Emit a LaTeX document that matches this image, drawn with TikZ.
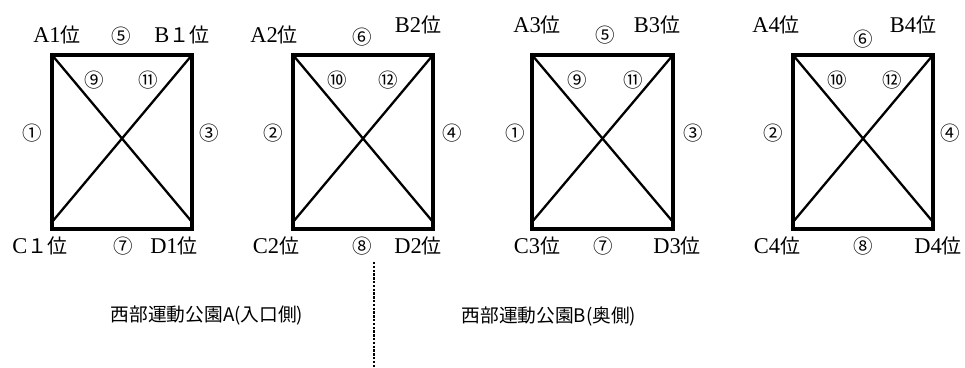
\documentclass[tikz,border=0pt]{standalone}
\usepackage{fontspec}
\setmainfont{Liberation Serif}
\newfontfamily\jp{Noto Sans CJK JP}
\tikzset{
  boxframe/.style={line width=3.8pt, line cap=rect},
  boxdiag/.style={line width=2.3pt},
  poslbl/.style={inner sep=0pt, font=\fontsize{22.5}{22.5}\selectfont},
  numlbl/.style={inner sep=0pt, font=\jp\fontsize{19.5}{19.5}\selectfont},
  captxt/.style={inner sep=0pt, font=\jp\fontsize{18.7}{18.7}\selectfont},
  sepline/.style={line width=2.8pt, dash pattern=on 2.4pt off 1.4pt}
}
\newcommand{\kurai}{{\jp\fontsize{20}{20}\selectfont 位}}
\newcommand{\zen}{{\jp\fontsize{20}{20}\selectfont １}}
\begin{document}
\begin{tikzpicture}[x=1pt,y=-1pt]
\useasboundingbox (0,0) rectangle (965,367);
% box corners
\foreach \n/\l/\r in {1/52/192, 2/293/433, 3/532/673, 4/793/933}{
  \coordinate (tl\n) at (\l,55);
  \coordinate (tr\n) at (\r,55);
  \coordinate (bl\n) at (\l,229);
  \coordinate (br\n) at (\r,229);
  \coordinate (ml\n) at (\l,222);
  \coordinate (mr\n) at (\r,222);
  \draw[boxframe] (tl\n) -- (tr\n) -- (br\n) -- (bl\n) -- cycle;
  \draw[boxdiag] (tl\n) -- (mr\n);
  \draw[boxdiag] (tr\n) -- (ml\n);
}
% box 1 labels
\node[poslbl] (a1) at (57,35) {A1\kurai};
\node[numlbl] (n5a) at (121,36) {⑤};
\node[poslbl] (b1) at (182,35) {B\zen\kurai};
\node[numlbl] (n9a) at (94,80) {⑨};
\node[numlbl] (n11a) at (148,80) {⑪};
\node[numlbl] (n1a) at (32,133) {①};
\node[numlbl] (n3a) at (209,133) {③};
\node[poslbl] (c1) at (40,246) {C\zen\kurai};
\node[numlbl] (n7a) at (123,246) {⑦};
\node[poslbl] (d1) at (174,246) {D1\kurai};
% box 2 labels
\node[poslbl] (a2) at (274,35) {A2\kurai};
\node[numlbl] (n6a) at (362,37) {⑥};
\node[poslbl] (b2) at (418,25) {B2\kurai};
\node[numlbl] (n10a) at (337,80) {⑩};
\node[numlbl] (n12a) at (388,80) {⑫};
\node[numlbl] (n2a) at (273,133) {②};
\node[numlbl] (n4a) at (452,133) {④};
\node[poslbl] (c2) at (276,246) {C2\kurai};
\node[numlbl] (n8a) at (362,246) {⑧};
\node[poslbl] (d2) at (418,246) {D2\kurai};
% box 3 labels
\node[poslbl] (a3) at (537,25) {A3\kurai};
\node[numlbl] (n5b) at (605,35) {⑤};
\node[poslbl] (b3) at (657,25) {B3\kurai};
\node[numlbl] (n9b) at (577,80) {⑨};
\node[numlbl] (n11b) at (633,80) {⑪};
\node[numlbl] (n1b) at (515,133) {①};
\node[numlbl] (n3b) at (693,133) {③};
\node[poslbl] (c3) at (537,246) {C3\kurai};
\node[numlbl] (n7b) at (603,246) {⑦};
\node[poslbl] (d3) at (677,246) {D3\kurai};
% box 4 labels
\node[poslbl] (a4) at (776,25) {A4\kurai};
\node[numlbl] (n6b) at (863,39) {⑥};
\node[poslbl] (b4) at (913,25) {B4\kurai};
\node[numlbl] (n10b) at (837,80) {⑩};
\node[numlbl] (n12b) at (892,80) {⑫};
\node[numlbl] (n2b) at (773,133) {②};
\node[numlbl] (n4b) at (950,133) {④};
\node[poslbl] (c4) at (777,246) {C4\kurai};
\node[numlbl] (n8b) at (863,246) {⑧};
\node[poslbl] (d4) at (938,246) {D4\kurai};
% captions
\node[captxt] (capA) at (207,316) {西部運動公園A(入口側)};
\node[captxt] (capB) at (549,316) {西部運動公園B(奥側)};
% separator
\coordinate (dtop) at (374,262);
\coordinate (dbot) at (374,367);
\draw[sepline] (dtop) -- (dbot);
\end{tikzpicture}
\end{document}
